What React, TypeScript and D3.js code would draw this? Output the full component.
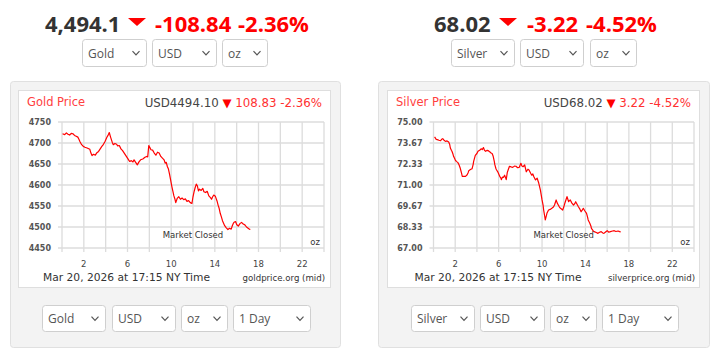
import React from "react";
import * as d3 from "d3";

// ---------- DATA ----------
const goldHours = [0.05,0.25,0.4,0.55,0.7,0.85,1.0,1.15,1.3,1.45,1.55,1.65,1.8,1.95,2.1,2.3,2.55,2.65,2.75,2.9,3.05,3.2,3.35,3.5,3.65,3.8,3.95,4.1,4.25,4.33,4.45,4.6,4.7,4.85,5.0,5.1,5.25,5.4,5.55,5.7,5.85,6.0,6.1,6.2,6.35,6.5,6.6,6.75,6.9,7.05,7.2,7.4,7.6,7.75,7.85,7.95,8.05,8.15,8.3,8.45,8.6,8.75,8.9,9.05,9.2,9.35,9.45,9.55,9.65,9.75,9.85,9.95,10.05,10.15,10.25,10.35,10.42,10.55,10.7,10.85,11.0,11.15,11.3,11.45,11.6,11.75,11.9,12.0,12.1,12.2,12.3,12.4,12.5,12.6,12.75,12.9,13.0,13.15,13.3,13.45,13.6,13.7,13.8,13.9,14.05,14.2,14.3,14.4,14.5,14.6,14.7,14.8,14.9,15.05,15.2,15.35,15.5,15.6,15.7,15.8,15.9,16.0,16.15,16.3,16.45,16.6,16.75,16.9,17.05,17.15,17.25];
const goldValues = [4722,4720,4724,4721,4719,4723,4722,4718,4716,4714,4709,4703,4696,4692,4690,4688,4685,4676,4670,4673,4671,4677,4680,4686,4692,4697,4704,4713,4720,4725,4714,4702,4696,4699,4697,4693,4694,4686,4682,4676,4670,4664,4660,4656,4658,4655,4660,4654,4648,4655,4660,4662,4666,4668,4667,4694,4689,4684,4683,4676,4671,4678,4676,4668,4664,4660,4652,4654,4644,4638,4626,4612,4598,4586,4574,4566,4558,4568,4572,4566,4569,4565,4567,4561,4563,4558,4556,4572,4584,4594,4602,4598,4586,4590,4587,4592,4584,4582,4585,4574,4570,4566,4572,4576,4573,4562,4552,4544,4532,4524,4515,4509,4503,4498,4494,4497,4495,4503,4509,4512,4513,4506,4502,4508,4511,4507,4505,4500,4497,4495,4494];

const silverHours = [0.1,0.25,0.35,0.5,0.65,0.75,0.85,1.0,1.1,1.25,1.4,1.5,1.55,1.65,1.7,1.8,1.85,2.0,2.1,2.25,2.35,2.45,2.5,2.6,2.65,2.8,2.95,3.1,3.2,3.25,3.4,3.55,3.65,3.7,3.8,3.85,4.0,4.1,4.25,4.4,4.5,4.6,4.7,4.8,4.95,5.05,5.2,5.3,5.4,5.5,5.6,5.65,5.75,5.8,5.95,6.1,6.2,6.25,6.35,6.45,6.55,6.65,6.7,6.8,6.9,7.0,7.15,7.3,7.45,7.6,7.75,7.9,8.05,8.15,8.25,8.4,8.55,8.7,8.8,8.95,9.05,9.15,9.25,9.4,9.55,9.7,9.85,10.0,10.1,10.15,10.25,10.3,10.4,10.45,10.6,10.75,10.9,11.05,11.15,11.3,11.4,11.5,11.6,11.7,11.9,12.0,12.1,12.2,12.3,12.45,12.6,12.75,12.9,13.0,13.1,13.25,13.35,13.5,13.6,13.7,13.8,13.95,14.1,14.2,14.25,14.4,14.5,14.55,14.7,14.8,15.0,15.15,15.3,15.45,15.6,15.7,15.85,16.0,16.15,16.3,16.5,16.65,16.8,17.0,17.15,17.25];
const silverValues = [74.05,73.9,73.88,73.84,73.81,73.9,73.94,73.82,73.77,73.8,73.73,73.55,73.35,73.2,73.14,72.95,72.82,72.6,72.5,72.42,72.29,72.1,71.97,71.7,71.55,71.55,71.55,71.65,71.8,71.91,71.98,72.03,72.3,72.5,72.75,72.88,73.0,73.14,73.2,73.3,73.25,73.38,73.2,73.14,73.2,73.18,73.1,73.03,73.0,72.82,72.5,72.29,72.05,71.97,71.8,71.55,71.45,71.34,71.5,71.49,71.62,71.45,71.34,71.8,72.0,72.19,72.15,72.12,72.2,72.19,72.1,72.12,72.38,72.2,72.16,72.27,71.84,72.0,71.95,71.75,71.63,71.7,71.53,71.32,71.43,71.11,70.68,70.05,69.7,69.41,69.0,68.78,69.05,69.2,69.41,69.45,69.52,69.6,69.73,70.05,69.85,69.73,69.6,69.52,69.41,69.6,69.84,70.05,70.26,69.94,70.05,69.85,69.73,69.8,69.94,69.75,69.62,69.45,69.3,69.4,69.52,69.35,69.2,68.95,68.78,68.57,68.4,68.25,68.1,68.04,67.98,67.93,68.0,68.04,67.95,67.93,68.02,68.1,68.0,68.04,68.08,68.1,68.05,68.08,68.04,68.02];

const goldYTicks = [4750, 4700, 4650, 4600, 4550, 4500, 4450];
const goldYLabels = ["4750", "4700", "4650", "4600", "4550", "4500", "4450"];
const silverYTicks = [75, 73.667, 72.333, 71, 69.667, 68.333, 67];
const silverYLabels = ["75.00", "73.67", "72.33", "71.00", "69.67", "68.33", "67.00"];
const xLabelHours = [2, 6, 10, 14, 18, 22];
const gridHours = [0, 2, 4, 6, 8, 10, 12, 14, 16, 18, 20, 22, 24];

const goldHeader = { price: "4,494.1", change: "-108.84", pct: "-2.36%" };
const silverHeader = { price: "68.02", change: "-3.22", pct: "-4.52%" };
const goldTitle = { name: "Gold Price", price: "USD4494.10", change: "108.83 -2.36%", source: "goldprice.org (mid)" };
const silverTitle = { name: "Silver Price", price: "USD68.02", change: "3.22 -4.52%", source: "silverprice.org (mid)" };
const dateText = "Mar 20, 2026 at 17:15 NY Time";

const RED = "#ff0000";
const UI_FONT = "'Open Sans', sans-serif";
const CH_FONT = "'DejaVu Sans', Verdana, sans-serif";

function Dropdown({ x, y, w, h, label }: { x: number; y: number; w: number; h: number; label: string }) {
  const cx = x + w - 11;
  const cy = y + h / 2;
  return (
    <g>
      <rect x={x + 0.5} y={y + 0.5} width={w - 1} height={h - 1} rx={3} fill="#fff" stroke="#cfcfcf" />
      <text x={x + 6} y={cy} dominantBaseline="central" fontFamily={UI_FONT} fontSize={12} fill="#555">{label}</text>
      <path d={`M${cx - 3.5},${cy - 1.8} L${cx},${cy + 1.8} L${cx + 3.5},${cy - 1.8}`} fill="none" stroke="#555" strokeWidth={1.2} />
    </g>
  );
}

function Header({ xs, data }: { xs: number[]; data: { price: string; change: string; pct: string } }) {
  const y = 32;
  return (
    <g fontFamily={UI_FONT} fontWeight={700} fontSize={22}>
      <text x={xs[0]} y={y} fill="#333">{data.price}</text>
      <path d={`M${xs[1]},18 L${xs[1] + 18},18 L${xs[1] + 9},26 Z`} fill={RED} />
      <text x={xs[2]} y={y} fill={RED}>{data.change}</text>
      <text x={xs[3]} y={y} fill={RED}>{data.pct}</text>
    </g>
  );
}

type Cfg = { panelX: number; panelW: number; innerX: number; innerW: number; plotL: number; plotR: number };

function Chart({ cfg, hours, values, yTicks, yLabels, title }: { cfg: Cfg; hours: number[]; values: number[]; yTicks: number[]; yLabels: string[]; title: typeof goldTitle }) {
  const top = 122, bottom = 248;
  const x = d3.scaleLinear().domain([0, 24]).range([cfg.plotL, cfg.plotR]);
  const y = d3.scaleLinear().domain([yTicks[yTicks.length - 1], yTicks[0]]).range([bottom, top]);
  const pts: [number, number][] = hours.map((h, i) => [h, values[i]]);
  const line = d3.line<[number, number]>().x((d) => x(d[0])).y((d) => y(d[1]));
  const innerR = cfg.innerX + cfg.innerW;
  return (
    <g>
      <rect x={cfg.panelX + 0.5} y={81.5} width={cfg.panelW - 1} height={266} rx={3} fill="#f3f3f3" stroke="#e0e0e0" />
      <rect x={cfg.innerX + 0.5} y={90.5} width={cfg.innerW - 1} height={197} fill="#fff" stroke="#dedede" />
      <text x={cfg.innerX + 9} y={106} fontFamily={CH_FONT} fontSize={11.5} fill="#ff4040">{title.name}</text>
      <text x={innerR - 9} y={107} textAnchor="end" fontFamily={CH_FONT} fontSize={11.8}>
        <tspan fill="#444">{title.price}</tspan>
        <tspan fill={RED}>{" \u25BC "}</tspan>
        <tspan fill="#ff3030">{title.change}</tspan>
      </text>
      {gridHours.map((h) => (
        <g key={"v" + h}>
          <line x1={x(h)} x2={x(h)} y1={top} y2={bottom + 4} stroke="#dcdcdc" strokeWidth={1.3} />
        </g>
      ))}
      {yTicks.map((t, i) => (
        <g key={"h" + i}>
          <line x1={cfg.plotL - 4} x2={cfg.plotR} y1={y(t)} y2={y(t)} stroke="#dcdcdc" strokeWidth={1.3} />
          <text x={cfg.plotL - 11} y={y(t) + 3} textAnchor="end" fontFamily={CH_FONT} fontWeight={700} fontSize={8} fill="#555">{yLabels[i]}</text>
        </g>
      ))}
      {xLabelHours.map((h) => (
        <text key={"x" + h} x={x(h)} y={267} textAnchor="middle" fontFamily={CH_FONT} fontSize={8.5} fill="#444">{h}</text>
      ))}
      <path d={line(pts) || ""} fill="none" stroke={RED} strokeWidth={1.2} strokeLinejoin="round" />
      <text x={x(12)} y={238} textAnchor="middle" fontFamily={CH_FONT} fontSize={8.5} fill="#333">Market Closed</text>
      <text x={cfg.plotR - 4} y={245} textAnchor="end" fontFamily={CH_FONT} fontSize={8.5} fill="#333">oz</text>
      <text x={cfg.plotL - 19} y={281} fontFamily={CH_FONT} fontSize={10.7} fill="#333">{dateText}</text>
      <text x={cfg.plotR + 1} y={281} textAnchor="end" fontFamily={CH_FONT} fontSize={8.6} fill="#333">{title.source}</text>
    </g>
  );
}

export default function App() {
  const goldCfg: Cfg = { panelX: 10, panelW: 331, innerX: 18, innerW: 313, plotL: 62, plotR: 324 };
  const silverCfg: Cfg = { panelX: 378, panelW: 332, innerX: 387, innerW: 313, plotL: 433.5, plotR: 694 };
  return (
    <div style={{ position: "absolute", left: 0, top: 0 }}>
      <svg width={720} height={357} style={{ display: "block", background: "#fff" }}>
        <Header xs={[45, 128, 155, 238]} data={goldHeader} />
        <Dropdown x={82} y={39} w={65} h={28} label="Gold" />
        <Dropdown x={152} y={39} w={65} h={28} label="USD" />
        <Dropdown x={222} y={39} w={46} h={28} label="oz" />

        <Header xs={[434, 499, 527, 586]} data={silverHeader} />
        <Dropdown x={451} y={39} w={64} h={28} label="Silver" />
        <Dropdown x={520} y={39} w={64} h={28} label="USD" />
        <Dropdown x={590} y={39} w={47} h={28} label="oz" />

        <Chart cfg={goldCfg} hours={goldHours} values={goldValues} yTicks={goldYTicks} yLabels={goldYLabels} title={goldTitle} />
        <Chart cfg={silverCfg} hours={silverHours} values={silverValues} yTicks={silverYTicks} yLabels={silverYLabels} title={silverTitle} />

        <Dropdown x={42} y={305} w={64} h={27} label="Gold" />
        <Dropdown x={112} y={305} w={64} h={27} label="USD" />
        <Dropdown x={181} y={305} w={47} h={27} label="oz" />
        <Dropdown x={233} y={305} w={78} h={27} label="1 Day" />

        <Dropdown x={411} y={305} w={64} h={27} label="Silver" />
        <Dropdown x={480} y={305} w={65} h={27} label="USD" />
        <Dropdown x={550} y={305} w={47} h={27} label="oz" />
        <Dropdown x={602} y={305} w={77} h={27} label="1 Day" />
      </svg>
    </div>
  );
}
